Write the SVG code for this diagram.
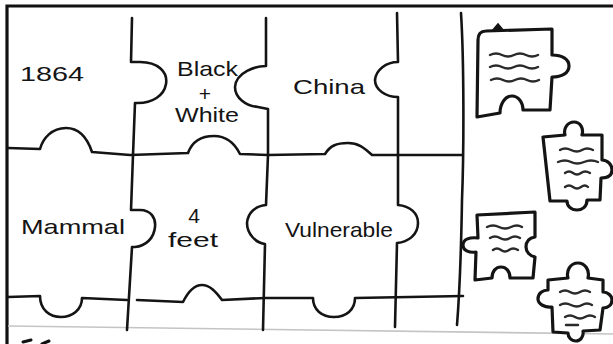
<svg xmlns="http://www.w3.org/2000/svg" width="613" height="344" viewBox="0 0 613 344">
<style>
.g{fill:none;stroke:#141414;stroke-width:2.6;stroke-linecap:round;stroke-linejoin:round}
.p{fill:#fff;stroke:#141414;stroke-width:3.2;stroke-linecap:round;stroke-linejoin:round}
.w{fill:none;stroke:#2a2a2a;stroke-width:2.4;stroke-linecap:round}
.t{font-family:"Liberation Sans",Arial,sans-serif;font-size:21px;fill:#141414}
</style>
<rect width="613" height="344" fill="#fff"/>
<g id="frame">
<path d="M7,344 L7,6 L613,6" fill="none" stroke="#111" stroke-width="3.2"/>
<path d="M8,326 L613,334" fill="none" stroke="#c4c4c4" stroke-width="1.6"/>
<path d="M23,342 L31,340 M42,344 L49,341" fill="none" stroke="#111" stroke-width="3" stroke-linecap="round"/>
</g>
<g id="connectors">
<path class="g" d="M8,148 L40,149 C43,138 52,128 66,128 C80,128 88,140 92,152 L130,155 L188,153 C192,142 200,136 214,136 C228,136 236,146 240,154 L268,155 L325,154 C330,146 336,143 348,143 C360,143 366,150 372,155 L462,155"/>
<path class="g" d="M8,297 L40,296 C40,310 50,317 61,317 C72,317 82,310 82,298 L127,300"/>
<path class="g" d="M137,300 L183,302 C188,292 194,285 202,285 C210,285 216,292 222,300 L265,298 L313,298 C313,310 322,317 334,317 C346,317 355,310 355,298 L463,296"/>
<path class="g" d="M132,18 L131,62 L140,62 C158,62 168,72 166,84 C164,96 152,103 138,103 L135,103 L133,155 L131,210 L140,210 C151,210 156,218 155,227 C154,238 146,246 135,247 L132,247 L127,330"/>
<path class="g" d="M266,18 L266,66 C256,66 236,72 235,87 C235,98 246,106 258,107 L268,109 L268,155 L266,205 C256,206 248,212 247,223 C247,234 256,243 265,244 L263,330"/>
<path class="g" d="M397,13 L398,62 C386,62 376,70 375,80 C375,90 386,97 398,97 L398,155 L398,205 C410,206 418,213 418,223 C418,235 408,242 397,243 L395,327"/>
<path class="g" d="M461,13 C464,60 464,150 462,200 C461,260 459,300 457,325"/>
</g>
<g id="n1864"><text class="t" x="20" y="81" font-size="24" textLength="64" lengthAdjust="spacingAndGlyphs">1864</text></g>
<g id="nBlackWhite">
<text class="t" x="177" y="76" textLength="61" lengthAdjust="spacingAndGlyphs">Black</text>
<text class="t" x="205" y="101" text-anchor="middle">+</text>
<text class="t" x="175" y="122" textLength="64" lengthAdjust="spacingAndGlyphs">White</text>
</g>
<g id="nChina"><text class="t" x="293" y="94" textLength="72" lengthAdjust="spacingAndGlyphs">China</text></g>
<g id="nMammal"><text class="t" x="21" y="234" font-size="22" textLength="104" lengthAdjust="spacingAndGlyphs">Mammal</text></g>
<g id="n4feet">
<text class="t" x="194" y="223" font-size="20" text-anchor="middle">4</text>
<text class="t" x="168" y="247" font-size="20" textLength="50" lengthAdjust="spacingAndGlyphs">feet</text>
</g>
<g id="nVulnerable"><text class="t" x="285" y="237" textLength="108" lengthAdjust="spacingAndGlyphs">Vulnerable</text></g>
<g id="pieceA">
<path class="p" d="M486,31 L552,29 L552,55 C562,55 569,59 569,66 C569,73 562,77 552,77 L550,110 L523,110 C523,102 518,96 512,96 C505,96 500,104 500,113 L477,117 L478,40 Q478,31 486,31 Z"/>
<path d="M492,31 L498,24 L503,30 Z" fill="#141414" stroke="#141414" stroke-width="1.5"/>
<path class="w" d="M490,55 q6,-3 12,0 t12,0 t12,0 t12,0 M490,67 q6,-3 12,0 t12,0 t12,0 t12,0 M491,80 q6,-3 12,0 t12,0 t12,0 t12,0"/>
</g>
<g id="pieceB">
<path class="p" d="M543,137 L565,135 C563,128 568,122 574,122 C580,122 584,128 582,135 L602,135 L602,160 C608,160 612,165 612,170 C612,176 608,178 601,178 L600,200 L587,200 C587,207 582,210 577,210 C571,210 567,206 567,201 L550,201 Z"/>
<path class="w" d="M560,150 q5,-3 11,0 t11,0 t11,0 M558,162 q7,-3 13,0 t13,0 t14,0 M565,173 q4,-3 8,0 t8,0 t9,0 M565,187 q4,-3 8,0 t8,0 t7,0"/>
</g>
<g id="pieceC">
<path class="p" d="M477,215 L535,212 L535,237 C529,238 526,242 526,247 C526,252 530,256 535,257 L533,278 L510,278 C510,271 506,267 501,267 C496,267 492,271 492,278 L475,280 L476,252 C470,253 463,251 463,245 C463,239 470,237 478,238 Z"/>
<path class="w" d="M487,227 q6,-3 12,0 t12,0 t11,0 M490,238 q5,-3 10,0 t10,0 t10,0 M493,250 q4,-3 8,0 t8,0 t9,0"/>
</g>
<g id="pieceD">
<path class="p" d="M548,280 L568,278 C566,271 570,263 578,263 C585,263 590,270 588,278 L603,280 L603,292 C608,292 612,296 612,300 C612,305 608,308 603,308 L600,330 L583,331 C584,337 580,341 576,341 C571,341 568,337 568,333 L553,332 L552,307 C545,308 538,304 538,299 C538,293 543,290 548,290 Z"/>
<path class="w" d="M560,292 q5,-3 10,0 t10,0 t10,0 M560,305 q5,-3 11,0 t11,0 t10,0 M565,317 q5,-3 10,0 t10,0 t10,0 M566,325 L578,325"/>
</g>
</svg>
